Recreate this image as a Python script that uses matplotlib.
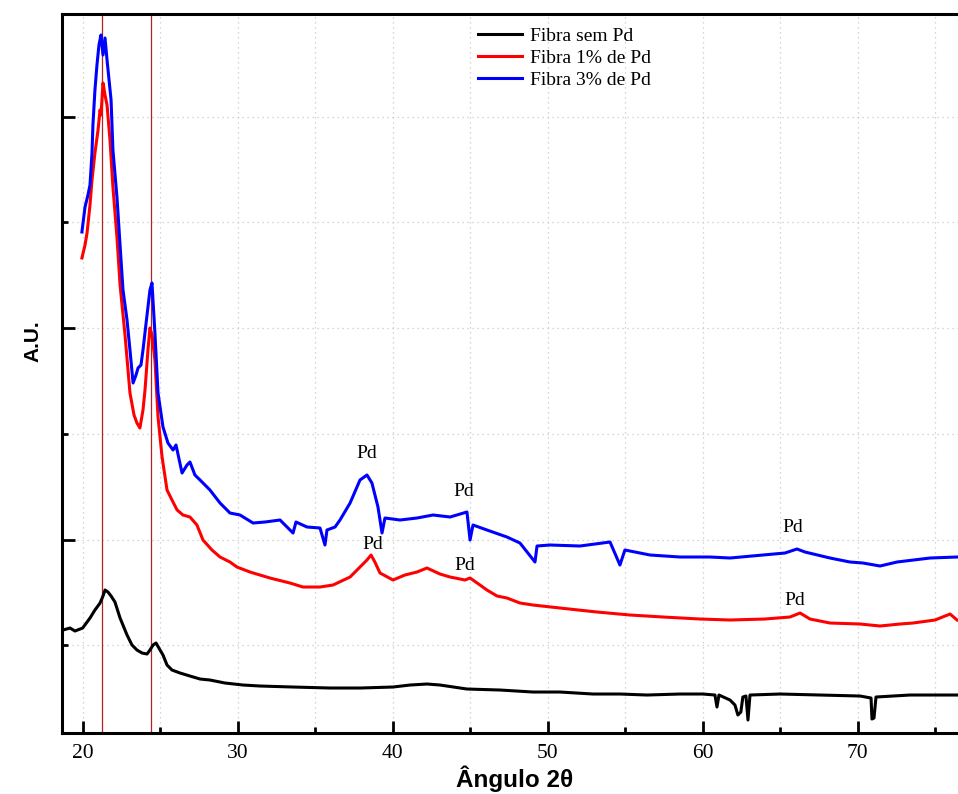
import matplotlib
matplotlib.use("Agg")
import matplotlib.pyplot as plt
from matplotlib.ticker import MultipleLocator

# 2theta (deg) and intensity (a.u.)
x_sem = [18.73, 19.18, 19.5, 20.0, 20.47, 20.79, 21.12, 21.31, 21.44, 21.63, 21.83, 22.08,
         22.41, 22.86, 23.18, 23.5, 23.83, 24.15, 24.34, 24.54, 24.73, 24.99, 25.18, 25.44,
         25.76, 26.28, 26.92, 27.57, 28.21, 29.18, 30.34, 31.44, 33.57, 35.95, 37.89, 40.02,
         41.12, 42.21, 43.05, 44.79, 46.92, 49.05, 50.79, 52.92, 54.66, 56.4, 58.53, 60.01,
         60.79, 60.92, 61.05, 61.76, 62.08, 62.27, 62.46, 62.59, 62.79, 62.92, 63.05, 64.99,
         67.57, 70.15, 70.86, 70.92, 71.05, 71.18, 73.37, 76.47]
y_sem = [121, 123, 120, 123, 133, 141, 148, 155, 161, 159, 155, 149,
         133, 116, 106, 101, 98, 97, 101, 106, 108, 101, 96, 86,
         81, 78, 75, 72, 71, 68, 66, 65, 64, 63, 63, 64,
         66, 67, 66, 62, 61, 59, 59, 57, 57, 56, 57, 57,
         56, 44, 56, 51, 46, 36, 39, 54, 55, 31, 56, 57,
         56, 55, 53, 32, 33, 54, 56, 56]

x_1pd = [19.95, 20.15, 20.28, 20.47, 20.6, 20.79, 20.99, 21.12, 21.18, 21.31, 21.44, 21.57,
         21.76, 21.95, 22.21, 22.41, 22.73, 23.05, 23.31, 23.5, 23.69, 23.89, 24.02, 24.21,
         24.34, 24.47, 24.66, 24.86, 25.12, 25.44, 25.76, 26.09, 26.47, 26.92, 27.37, 27.76,
         28.34, 28.86, 29.5, 29.95, 30.79, 32.08, 33.37, 34.21, 35.31, 36.15, 37.25, 37.89,
         38.34, 38.6, 38.85, 39.18, 40.02, 40.79, 41.57, 42.21, 43.05, 43.7, 44.66, 44.99,
         45.63, 46.08, 46.73, 47.37, 48.21, 49.05, 50.79, 53.18, 55.31, 57.44, 59.83, 61.76,
         64.02, 65.63, 66.28, 66.92, 68.21, 70.15, 71.44, 72.73, 73.57, 74.99, 75.96, 76.41]
y_1pd = [493, 506, 518, 546, 571, 598, 621, 641, 636, 668, 656, 646,
         611, 564, 514, 466, 416, 358, 336, 328, 323, 341, 361, 401,
         423, 416, 391, 334, 294, 261, 251, 241, 236, 234, 226, 211,
         201, 194, 189, 184, 179, 173, 168, 164, 164, 166, 174, 184,
         191, 196, 189, 178, 171, 176, 179, 183, 177, 174, 171, 173,
         166, 161, 155, 153, 148, 146, 143, 139, 136, 134, 132, 131,
         132, 134, 138, 132, 128, 127, 125, 127, 128, 131, 137, 131]

x_3pd = [19.95, 20.15, 20.34, 20.47, 20.6, 20.66, 20.79, 20.92, 21.05, 21.18, 21.31, 21.44,
         21.57, 21.7, 21.83, 21.95, 22.21, 22.41, 22.6, 22.86, 23.05, 23.25, 23.44, 23.57,
         23.76, 23.89, 24.15, 24.34, 24.47, 24.66, 24.86, 25.18, 25.5, 25.83, 26.02, 26.41,
         26.73, 26.92, 27.24, 27.57, 28.21, 28.86, 29.5, 30.15, 30.99, 31.76, 32.73, 33.57,
         33.76, 34.47, 35.31, 35.63, 35.76, 36.28, 36.6, 37.25, 37.89, 38.34, 38.66, 39.05,
         39.31, 39.5, 40.47, 41.57, 42.6, 43.7, 44.79, 44.99, 45.18, 46.08, 47.37, 48.21,
         49.18, 49.31, 50.15, 52.08, 54.02, 54.66, 54.98, 56.6, 58.53, 60.47, 61.76, 63.89,
         65.31, 66.08, 66.6, 68.21, 69.5, 70.34, 71.44, 72.54, 74.67, 76.41]
y_3pd = [519, 544, 556, 566, 598, 626, 661, 686, 706, 716, 696, 713,
         691, 671, 651, 601, 554, 506, 461, 431, 401, 368, 376, 383,
         386, 401, 436, 461, 468, 418, 358, 324, 308, 301, 306, 278,
         286, 289, 276, 271, 261, 248, 238, 236, 228, 229, 231, 218,
         229, 224, 223, 206, 221, 224, 231, 248, 271, 276, 268, 244,
         218, 233, 231, 233, 236, 234, 239, 211, 226, 221, 214, 208,
         189, 205, 206, 205, 209, 186, 201, 196, 194, 194, 193, 196,
         198, 202, 199, 193, 189, 188, 185, 189, 193, 194]

series = [("Fibra sem Pd", x_sem, y_sem, "black"),
          ("Fibra 1% de Pd", x_1pd, y_1pd, "red"),
          ("Fibra 3% de Pd", x_3pd, y_3pd, "blue")]

ref_lines = [21.22, 24.38]

pd_x = [38.35, 44.6, 38.74, 44.66, 65.8, 65.95]
pd_y = [298, 260, 207, 186, 224, 151]

fig = plt.figure(figsize=(9.58, 7.94), dpi=100)
ax = fig.add_axes([0.0644, 0.0768, 0.9356, 0.9056])

for label, xs, ys, c in series:
    ax.plot(xs, ys, color=c, lw=2.2, label=label)

for xv in ref_lines:
    ax.axvline(xv, color="#b22222", lw=0.9, zorder=1)

for xv, yv in zip(pd_x, pd_y):
    ax.text(xv, yv, "Pd", ha="center", va="center",
            family="Liberation Serif", fontsize=14)

ax.set_xlim(18.645, 76.47)
ax.set_ylim(18, 737)
ax.xaxis.set_major_locator(MultipleLocator(10))
ax.xaxis.set_minor_locator(MultipleLocator(5))
ax.yaxis.set_major_locator(MultipleLocator(211.4))
ax.yaxis.set_minor_locator(MultipleLocator(105.7))
ax.set_yticklabels([])
ax.tick_params(which="both", direction="in", width=2, top=False, right=False)
ax.tick_params(which="major", length=9)
ax.tick_params(which="minor", length=4.5)
ax.tick_params(axis="x", which="major", labelsize=15.5, pad=8)
for lab in ax.get_xticklabels():
    lab.set_family("Liberation Serif")
ax.grid(which="both", color="#c8c8c8", ls=(0, (1, 3)), lw=0.9)
ax.set_axisbelow(True)

ax.spines["right"].set_visible(False)
for s in ["left", "bottom", "top"]:
    ax.spines[s].set_linewidth(2.2)

ax.set_xlabel("Ângulo 2θ", family="Liberation Sans", fontweight="bold",
              fontsize=17.5, va="center")
ax.xaxis.set_label_coords(0.505, -0.064)
ax.set_ylabel("A.U.", family="Liberation Sans", fontweight="bold",
              fontsize=15)
ax.yaxis.set_label_coords(-0.021, 0.545)

ax.legend(loc="upper left", bbox_to_anchor=(0.499, 0.9655), bbox_transform=fig.transFigure,
          frameon=False, handlelength=2.27, handletextpad=0.4, labelspacing=0.22,
          borderpad=0, borderaxespad=0, prop={"family": "Liberation Serif", "size": 14})

fig.savefig("out.png", dpi=100)
